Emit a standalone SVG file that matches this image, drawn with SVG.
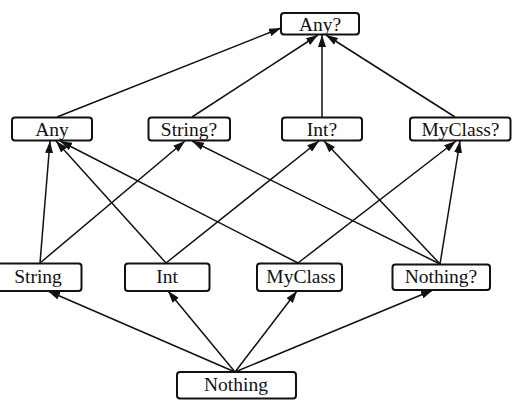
<svg xmlns="http://www.w3.org/2000/svg" width="516" height="407" viewBox="0 0 516 407">
<defs>
<marker id="ah" markerUnits="userSpaceOnUse" markerWidth="12" markerHeight="8" refX="12" refY="4" orient="auto">
<path d="M0,0 L12,4 L0,8 z" fill="#111"/>
</marker>
<style>
.box{fill:#fff;stroke:#111;stroke-width:2}
.lbl{font-size:19.5px;fill:#111;text-anchor:middle}
.e{stroke:#111;stroke-width:1.5;fill:none;marker-end:url(#ah)}
</style>
</defs>
<rect width="516" height="407" fill="#fff"/>
<g id="edges">
<line class="e" x1="57" y1="117" x2="281" y2="28"/>
<line class="e" x1="192" y1="117" x2="318" y2="35"/>
<line class="e" x1="322" y1="117" x2="322" y2="35"/>
<line class="e" x1="455" y1="117" x2="326" y2="35"/>
<line class="e" x1="40" y1="263" x2="50" y2="141"/>
<line class="e" x1="40" y1="263" x2="185" y2="141"/>
<line class="e" x1="166" y1="263" x2="56" y2="141"/>
<line class="e" x1="166" y1="263" x2="319" y2="141"/>
<line class="e" x1="298" y1="263" x2="60" y2="141"/>
<line class="e" x1="298" y1="263" x2="456" y2="141"/>
<line class="e" x1="440" y1="264" x2="192" y2="141"/>
<line class="e" x1="440" y1="264" x2="324" y2="141"/>
<line class="e" x1="440" y1="264" x2="460" y2="141"/>
<line class="e" x1="235" y1="372" x2="48" y2="291"/>
<line class="e" x1="235" y1="372" x2="168" y2="291"/>
<line class="e" x1="235" y1="372" x2="297" y2="291"/>
<line class="e" x1="235" y1="372" x2="433" y2="290"/>
</g>
<g font-family="Liberation Serif, DejaVu Serif, serif">
<g id="anyq"><rect class="box" x="281" y="13" width="78" height="21.5" rx="3"/><text class="lbl" x="320" y="30.5">Any?</text></g>
<g id="any"><rect class="box" x="12" y="117.5" width="80" height="23" rx="3"/><text class="lbl" x="52" y="135.5">Any</text></g>
<g id="stringq"><rect class="box" x="148.5" y="117.5" width="81.5" height="23" rx="3"/><text class="lbl" x="189" y="135.5">String?</text></g>
<g id="intq"><rect class="box" x="282" y="117.5" width="80" height="23" rx="3"/><text class="lbl" x="322" y="135.5">Int?</text></g>
<g id="myclassq"><rect class="box" x="410" y="117.5" width="100.5" height="23" rx="3"/><text class="lbl" x="460.5" y="135.5">MyClass?</text></g>
<g id="string"><rect class="box" x="-5" y="263.5" width="86.5" height="27.5" rx="3"/><text class="lbl" x="38" y="283">String</text></g>
<g id="int"><rect class="box" x="125" y="263.5" width="84.5" height="27.5" rx="3"/><text class="lbl" x="167" y="283">Int</text></g>
<g id="myclass"><rect class="box" x="257" y="263.5" width="85" height="27.5" rx="3"/><text class="lbl" x="301" y="283">MyClass</text></g>
<g id="nothingq"><rect class="box" x="392.5" y="264.5" width="97.5" height="25.5" rx="3"/><text class="lbl" x="441" y="283">Nothing?</text></g>
<g id="nothing"><rect class="box" x="177" y="372" width="119" height="26.5" rx="3"/><text class="lbl" x="236" y="391">Nothing</text></g>
</g>
</svg>
